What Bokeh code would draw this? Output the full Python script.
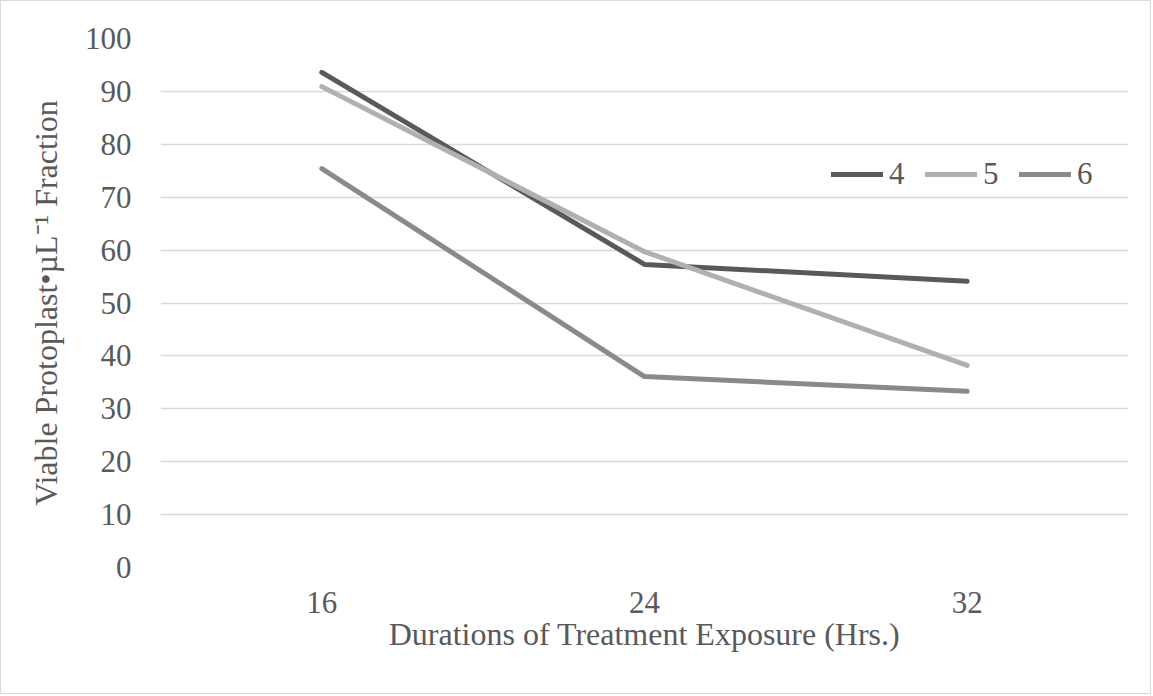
from bokeh.plotting import figure
from bokeh.models import FactorRange, Range1d, FixedTicker, Legend, LegendItem
from bokeh.embed import file_html
from bokeh.resources import INLINE

durations = ["16", "24", "32"]
series_names = ["4", "5", "6"]
s4 = [93.6, 57.3, 54.1]
s5 = [90.9, 59.7, 38.2]
s6 = [75.4, 36.1, 33.3]
y_ticks = [0, 10, 20, 30, 40, 50, 60, 70, 80, 90, 100]
colors = ["#595959", "#b0b0b0", "#8a8a8a"]

FONT = "Liberation Serif"

p = figure(width=1151, height=694, x_range=FactorRange(*durations), y_range=Range1d(0, 100),
           output_backend="svg", toolbar_location=None,
           min_border_left=159, min_border_right=24, min_border_top=37, min_border_bottom=128)
p.styles = {"border": "1px solid #d9d9d9"}
p.outline_line_color = None
p.background_fill_color = "white"

renderers = []
for vals, c in zip([s4, s5, s6], colors):
    r = p.line(x=durations, y=vals, line_color=c, line_width=5, line_cap="round", line_join="round")
    renderers.append(r)

p.xgrid.grid_line_color = None
p.ygrid.grid_line_color = "#d9d9d9"
p.ygrid.grid_line_width = 1.5
p.yaxis.ticker = FixedTicker(ticks=y_ticks)

for ax in (p.xaxis[0], p.yaxis[0]):
    ax.axis_line_color = None
    ax.major_tick_line_color = None
    ax.minor_tick_line_color = None
    ax.major_label_text_font = FONT
    ax.major_label_text_font_size = "31px"
    ax.major_label_text_color = "#595959"
    ax.axis_label_text_font = FONT
    ax.axis_label_text_font_size = "32px"
    ax.axis_label_text_color = "#595959"
    ax.axis_label_text_font_style = "normal"

p.xaxis.axis_label = "Durations of Treatment Exposure (Hrs.)"
p.yaxis.axis_label = "Viable Protoplast•µL\u207b\u00b9 Fraction"
p.xaxis.major_label_standoff = 18
p.xaxis.axis_label_standoff = 0
p.yaxis.major_label_standoff = 23
p.yaxis.axis_label_standoff = 18

legend = Legend(items=[LegendItem(label=n, renderers=[r]) for n, r in zip(series_names, renderers)],
                orientation="horizontal", location=(671, 375))
legend.label_text_font = FONT
legend.label_text_font_size = "31px"
legend.label_text_color = "#595959"
legend.glyph_width = 52
legend.glyph_height = 30
legend.label_height = 30
legend.label_standoff = 6
legend.spacing = 16
legend.border_line_color = None
legend.background_fill_alpha = 0
legend.padding = 0
legend.margin = 0
p.add_layout(legend)

open("out.html", "w").write(file_html(p, INLINE))
